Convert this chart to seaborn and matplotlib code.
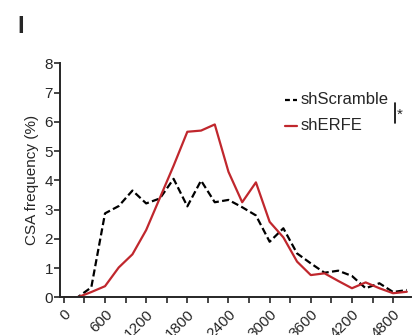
import numpy as np
import pandas as pd
import matplotlib
matplotlib.use("Agg")
import matplotlib.pyplot as plt
import seaborn as sns

# CSA bins (um^2) and frequency (%)
csa_bins = list(range(0, 5001, 200))
scramble_freq = [0, 0, 0.34, 2.87, 3.12, 3.65, 3.21, 3.38, 4.05, 3.11, 3.99, 3.25,
                 3.33, 3.08, 2.80, 1.90, 2.36, 1.50, 1.16, 0.84, 0.91, 0.73, 0.31,
                 0.48, 0.18, 0.25]
erfe_freq = [0, 0, 0.18, 0.38, 1.02, 1.47, 2.30, 3.40, 4.50, 5.66, 5.70, 5.91,
             4.29, 3.25, 3.93, 2.58, 2.05, 1.22, 0.76, 0.82, 0.56, 0.31, 0.51,
             0.31, 0.14, 0.19]
groups = ["shScramble", "shERFE"]
colors = {"shScramble": "black", "shERFE": "#C0272D"}
x_ticks = list(range(0, 4801, 300))
x_labels = [str(t) if t % 600 == 0 else "" for t in x_ticks]
y_ticks = list(range(0, 9))

df = pd.DataFrame({
    "CSA": csa_bins * 2,
    "freq": scramble_freq + erfe_freq,
    "group": [groups[0]] * len(csa_bins) + [groups[1]] * len(csa_bins),
})

sns.set_style("ticks")
plt.rcParams["font.family"] = ["Liberation Sans", "DejaVu Sans"]

fig = plt.figure(figsize=(4.13, 3.35), dpi=100)
ax = fig.add_axes([0.145, 0.1125, 0.85, 0.6985])

dash = (3.2, 1.5)
sns.lineplot(data=df, x="CSA", y="freq", hue="group", style="group",
             palette=colors, dashes={"shScramble": dash, "shERFE": ""},
             linewidth=1.6, ax=ax, legend=False)

ax.set_xlim(-58, 5060)
ax.set_ylim(0, 8)
ax.set_xticks(x_ticks)
ax.set_xticklabels(x_labels, rotation=45, ha="right", rotation_mode="anchor",
                   fontsize=11)
ax.set_yticks(y_ticks)
ax.tick_params(axis="y", labelsize=11, length=4, width=1.2, pad=1)
ax.tick_params(axis="x", length=4, width=1.2, pad=3)
ax.set_xlabel("")
ax.set_ylabel("CSA frequency (%)", fontsize=11, labelpad=4)
for s in ["left", "bottom"]:
    ax.spines[s].set_linewidth(1.4)
sns.despine(ax=ax)

# legend drawn by hand, as in the figure
ax.plot([3217, 3400], [6.75, 6.75], color="black", lw=1.6, dashes=(2.2, 1.4),
        clip_on=False)
ax.text(3445, 6.75, "shScramble", fontsize=12, va="center")
ax.plot([3217, 3400], [5.87, 5.87], color=colors["shERFE"], lw=1.6, clip_on=False)
ax.text(3445, 5.87, "shERFE", fontsize=12, va="center")
ax.plot([4830, 4830], [5.96, 6.64], color="black", lw=1.2, clip_on=False)
ax.text(4860, 6.25, "*", fontsize=11, va="center")

fig.text(0.043, 0.92, "I", fontsize=17, fontweight="bold", va="center")

fig.savefig("out.png", dpi=100)
